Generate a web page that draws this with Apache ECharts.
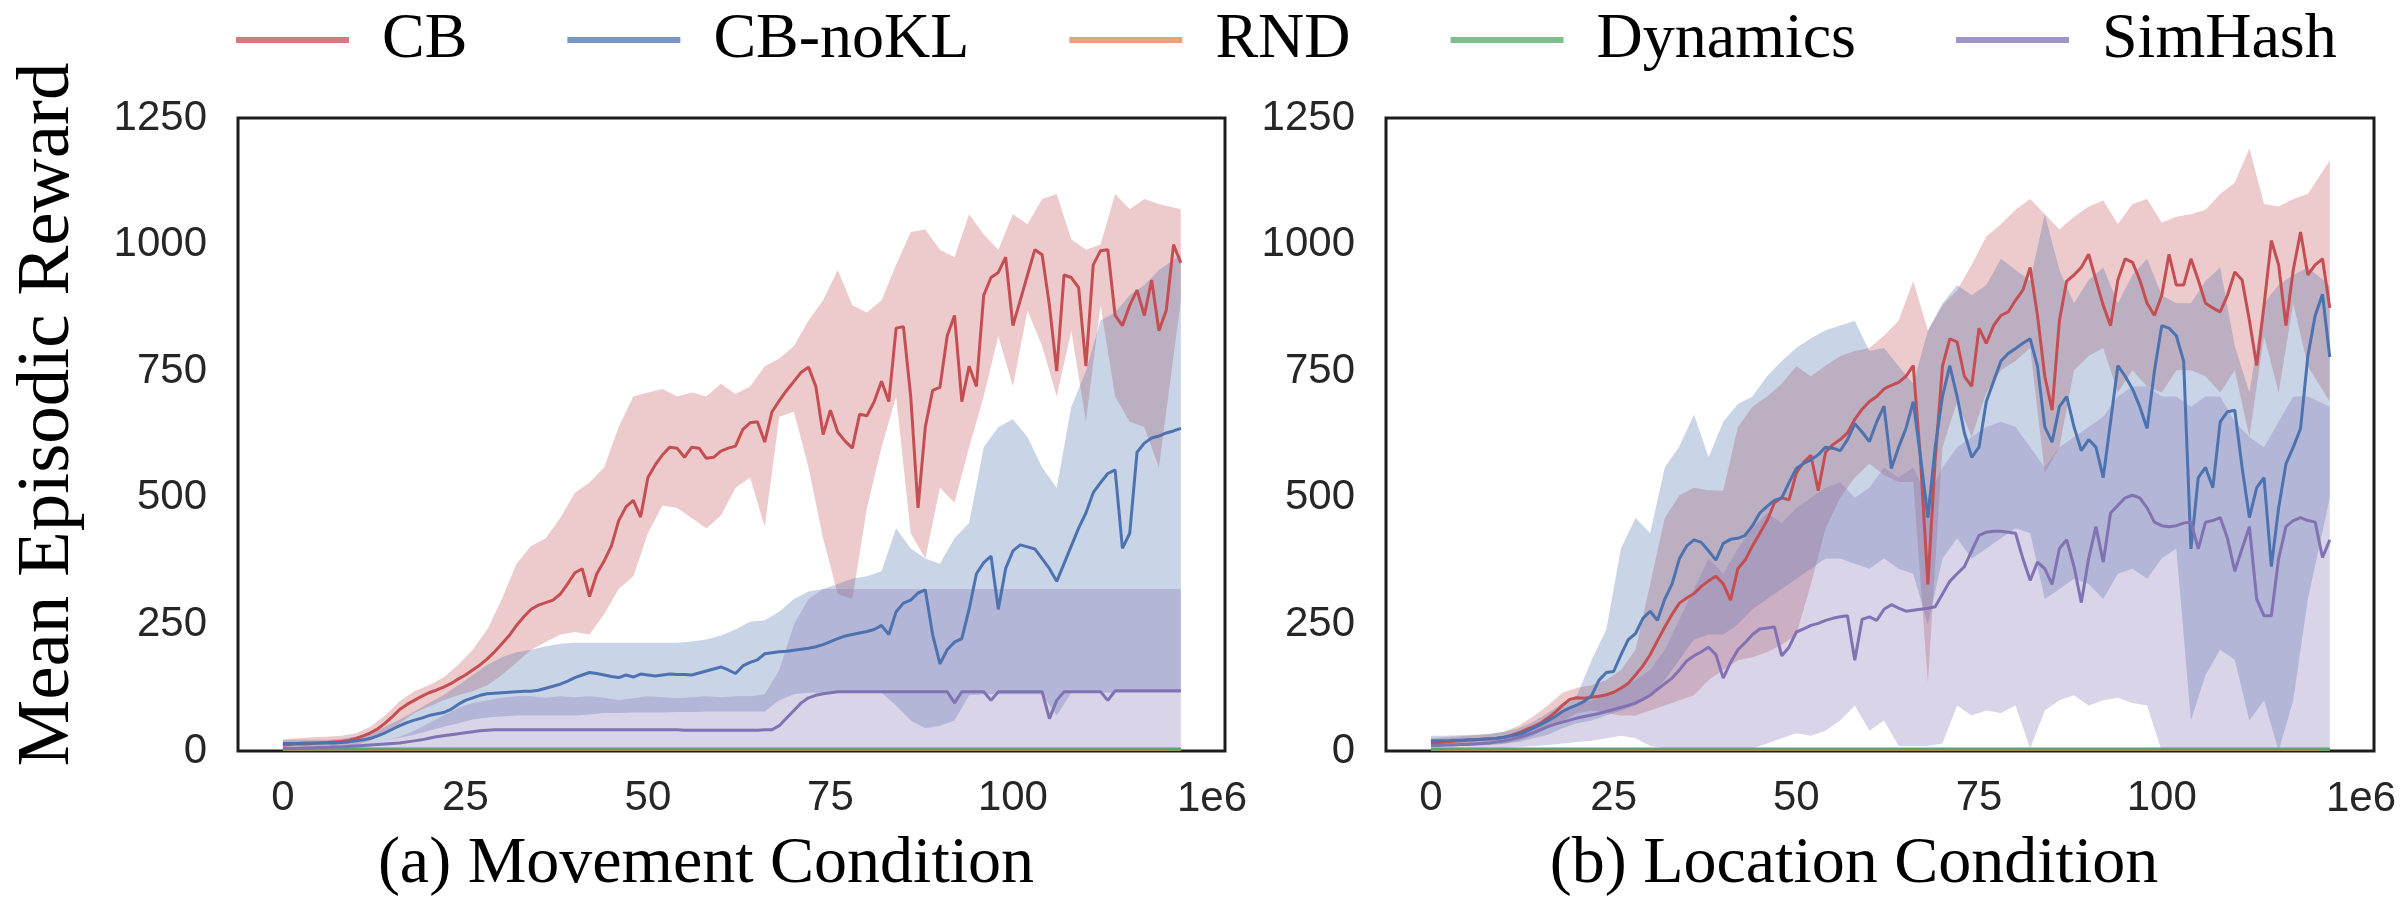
<!DOCTYPE html>
<html>
<head>
<meta charset="utf-8">
<title>Mean Episodic Reward</title>
<script src="https://cdn.jsdelivr.net/npm/echarts@6/dist/echarts.min.js"></script>
<style>
  html, body { margin: 0; padding: 0; background: #fff; }
  #chart { width: 2403px; height: 910px; }
</style>
</head>
<body>
<div id="chart"></div>
<script>
// x position of each sample, in units of 1e6 steps
const xs = [0,1,2,3,4,5,6,7,8,9,10,11,12,13,14,15,16,17,18,19,20,21,22,23,24,25,26,27,28,29,30,31,32,33,34,35,36,37,38,39,40,41,42,43,44,45,46,47,48,49,50,51,52,53,54,55,56,57,58,59,60,61,62,63,64,65,66,67,68,69,70,71,72,73,74,75,76,77,78,79,80,81,82,83,84,85,86,87,88,89,90,91,92,93,94,95,96,97,98,99,100,101,102,103,104,105,106,107,108,109,110,111,112,113,114,115,116,117,118,119,120,121,122,123]
// x positions of the shaded bands
const xb = [0,2,4,6,8,10,12,14,16,18,20,22,24,26,28,30,32,34,36,38,40,42,44,46,48,50,52,54,56,58,60,62,64,66,68,70,72,74,76,78,80,82,84,86,88,90,92,94,96,98,100,102,104,106,108,110,112,114,116,118,120,123]
const xEnds = [0, 123]
const xTicks = [0, 25, 50, 75, 100]

const names = ['CB', 'CB-noKL', 'RND', 'Dynamics', 'SimHash']
const colors = ['#C44E52', '#4C72B0', '#DD8452', '#55A868', '#8172B3']
const legendColors = ['#d37a7d', '#7995c4', '#e5a37d', '#80be8e', '#a095c6']
const titles = ['(a) Movement Condition', '(b) Location Condition']

// ---- (a) Movement Condition ----
const cbA = [12,13,14,14,15,16,17,18,19,21,
  25,30,36,44,55,68,82,92,100,108,
  115,120,126,133,142,150,160,170,182,196,
  212,228,248,265,280,288,293,298,310,330,
  352,360,305,350,375,405,455,482,495,462,
  540,565,585,600,598,580,600,598,578,580,
  592,598,602,635,648,650,610,670,692,712,
  730,748,758,720,625,673,630,612,598,665,
  662,690,730,690,835,838,700,480,640,712,
  718,820,860,690,760,720,900,935,945,975,
  840,890,940,990,980,880,750,940,935,915,
  760,960,988,990,860,840,880,910,860,930,
  830,870,1000,964]
const cbAHi = [22,25,27,28,30,35,48,70,98,118,
  130,145,170,200,240,300,370,405,420,460,
  510,530,560,640,700,708,715,700,708,700,
  725,705,720,760,775,800,850,890,950,880,
  866,890,960,1025,1030,990,975,1060,1020,990,
  1060,1040,1090,1100,1010,990,1000,1100,1070,1090,
  1080,1070]
const cbALo = [5,6,7,8,9,12,20,35,55,75,
  88,100,110,118,130,150,175,200,215,230,
  235,230,270,320,345,430,485,480,460,440,
  465,520,540,443,660,670,560,420,310,300,
  480,600,700,430,380,520,490,600,700,820,
  720,870,800,700,830,650,880,700,650,640,
  560,890]

const cnA = [15,15,15,16,16,16,16,16,17,18,
  20,22,25,30,36,43,50,56,61,65,
  70,73,76,82,92,100,105,110,113,114,
  115,116,117,118,118,120,124,128,132,138,
  145,150,155,153,150,147,145,150,146,152,
  150,148,150,152,151,151,150,154,158,162,
  166,160,153,168,175,180,192,194,196,197,
  199,201,203,206,210,216,222,227,230,233,
  236,240,248,230,275,292,298,312,318,230,
  172,200,215,222,280,350,372,385,280,360,
  395,407,403,399,380,360,335,370,405,440,
  470,510,530,548,555,400,430,590,608,618,
  622,628,632,637]
const cnAHi = [22,22,22,22,24,28,35,48,62,78,
  95,110,130,150,170,185,195,200,207,212,
  214,214,214,214,214,214,214,214,216,220,
  228,240,255,258,275,300,315,320,330,340,
  345,355,440,400,380,370,420,450,600,640,
  655,620,560,520,680,750,850,866,900,920,
  950,980]
const cnALo = [8,8,8,9,10,12,15,20,26,32,
  40,48,55,62,66,68,70,70,70,70,
  70,72,75,75,76,76,76,77,77,78,
  78,78,78,78,100,112,115,115,115,115,
  115,115,90,60,45,50,60,110,112,112,
  112,112,112,70,115,115,115,115,115,115,
  115,115]

const puA = [5,5,5,6,6,7,7,8,8,9,
  10,11,12,13,14,15,16,18,20,22,
  25,28,30,32,34,36,38,40,41,42,
  42,42,42,42,42,42,42,42,42,42,
  42,42,42,42,42,42,42,42,42,42,
  42,42,42,42,42,41,41,41,41,41,
  41,41,41,41,41,41,42,42,50,65,
  80,95,105,110,113,115,117,117,117,117,
  117,117,117,117,117,117,117,117,117,117,
  117,117,95,117,117,117,117,100,117,117,
  117,117,117,117,117,64,100,117,117,117,
  117,117,117,100,119,119,119,119,119,119,
  119,119,119,119]
const puAHi = [8,8,9,10,11,13,16,20,28,40,
  55,70,85,95,100,105,108,108,105,108,
  106,108,105,100,104,108,106,104,106,108,
  106,108,108,112,160,250,300,320,320,320,
  320,320,320,320,320,320,320,320,320,320,
  320,320,320,320,320,320,320,320,320,320,
  320,320]
const puALo = [0,0,0,0,0,0,0,0,0,0,
  0,0,0,0,0,0,0,0,0,0,
  0,0,0,0,0,0,0,0,0,0,
  0,0,0,0,0,0,0,0,0,0,
  0,0,0,0,0,0,0,0,0,0,
  0,0,0,0,0,0,0,0,0,0,
  0,0]

const rndA = [3, 3]
const dynA = [4, 4]

// ---- (b) Location Condition ----
const cbB = [16,17,18,19,20,21,22,23,24,25,
  27,31,36,42,48,55,65,76,90,102,
  105,104,106,108,111,116,124,134,150,168,
  190,218,245,270,292,302,311,325,336,345,
  330,298,360,377,405,430,455,490,500,496,
  549,570,584,514,590,605,615,628,655,675,
  690,700,715,722,728,740,761,575,329,575,
  760,814,808,740,720,835,805,840,860,867,
  890,910,955,860,740,673,850,928,940,955,
  981,930,880,840,930,972,965,930,884,860,
  900,981,920,920,972,930,884,875,867,900,
  946,930,850,761,880,1008,960,840,950,1025,
  940,960,972,875]
const cbBHi = [25,27,29,31,33,38,50,68,90,115,
  125,130,140,160,200,330,460,505,520,515,
  514,640,680,700,725,760,740,761,780,790,
  796,820,850,928,830,880,910,960,1016,1040,
  1069,1090,1060,1030,1055,1075,1087,1040,1080,1090,
  1043,1055,1060,1069,1100,1122,1190,1080,1075,1090,
  1100,1166]
const cbBLo = [8,9,10,11,12,14,20,30,45,60,
  75,80,75,70,70,80,90,100,110,140,
  160,179,185,195,210,230,330,440,500,540,
  567,545,531,531,135,600,690,620,708,752,
  770,796,549,600,752,780,796,708,752,720,
  708,752,752,740,708,752,620,820,708,884,
  760,690]

const cnB = [20,20,20,21,21,22,22,23,24,25,
  27,30,33,38,45,52,60,68,78,85,
  91,98,110,140,155,157,190,220,232,262,
  276,258,300,330,380,405,417,412,395,377,
  410,418,420,426,445,470,483,495,500,530,
  558,568,575,585,600,598,593,615,646,630,
  611,650,681,558,600,637,690,580,461,600,
  700,761,700,628,580,600,690,730,770,785,
  795,805,814,760,640,610,680,700,640,593,
  615,600,540,650,761,740,715,680,637,750,
  840,835,820,770,399,540,560,520,650,670,
  673,560,461,520,540,364,480,567,600,637,
  780,860,902,778]
const cnBHi = [30,30,31,32,34,38,45,58,75,95,
  110,180,240,400,460,430,560,602,664,580,
  650,685,700,740,770,796,815,831,840,849,
  790,796,760,725,830,884,920,900,920,972,
  950,928,1060,950,884,930,955,884,940,972,
  900,884,884,928,955,800,708,884,920,940,
  955,919]
const cnBLo = [10,10,11,12,13,15,18,25,32,45,
  55,60,70,80,90,110,140,180,220,230,
  230,250,280,300,320,340,360,380,380,370,
  360,380,360,350,250,380,420,380,400,420,
  440,430,300,320,340,330,300,350,360,340,
  380,400,60,150,200,180,60,100,0,100,
  300,500]

const puB = [11,11,12,12,13,13,14,15,16,18,
  20,23,27,31,36,42,48,53,57,61,
  65,68,71,74,78,82,86,90,95,102,
  110,122,133,144,160,178,188,196,205,190,
  144,175,200,214,230,241,243,245,188,205,
  235,241,248,252,258,262,265,267,179,260,
  265,258,280,289,282,276,278,280,282,285,
  310,335,350,364,395,426,432,434,434,432,
  430,380,337,373,360,329,400,417,364,293,
  380,443,373,470,485,500,505,500,480,452,
  445,443,445,450,452,399,452,455,461,420,
  355,400,443,300,267,267,380,443,455,461,
  455,452,382,417]
const puBHi = [15,16,17,18,20,25,35,45,60,75,
  90,100,110,125,140,160,200,260,320,380,
  350,400,440,470,450,480,500,520,530,500,
  520,560,540,560,500,560,600,620,640,650,
  640,600,560,600,620,640,660,700,720,720,
  700,700,680,700,700,650,620,600,650,700,
  700,680]
const puBLo = [3,3,4,4,5,6,8,10,12,15,
  18,20,25,30,25,10,5,0,0,0,
  0,0,5,15,25,35,30,40,60,90,
  40,60,10,10,10,15,90,70,80,75,
  90,5,80,100,110,90,100,105,95,90,
  0,0,0,0,0,0,0,0,0,0,
  0,0]

const rndB = [3, 3]
const dynB = [4, 4]

const panels = [
  { cb: cbA, cbHi: cbAHi, cbLo: cbALo, cn: cnA, cnHi: cnAHi, cnLo: cnALo, pu: puA, puHi: puAHi, puLo: puALo, rnd: rndA, dyn: dynA },
  { cb: cbB, cbHi: cbBHi, cbLo: cbBLo, cn: cnB, cnHi: cnBHi, cnLo: cnBLo, pu: puB, puHi: puBHi, puLo: puBLo, rnd: rndB, dyn: dynB }
]

const serif = 'Liberation Serif'
const sans = 'Liberation Sans'
const tickColor = '#262626'

const pairs = (x, y) => x.map((v, i) => [v, y[i]])

const line = (g, idx, x, y) => ({
  name: names[idx],
  type: 'line',
  xAxisIndex: g,
  yAxisIndex: g,
  data: pairs(x, y),
  symbol: 'none',
  lineStyle: { color: colors[idx], width: 3 },
  itemStyle: { color: colors[idx] }
})

// shaded band between lo and hi, drawn as one polygon through the axis scales
const band = (g, idx, lo, hi) => ({
  name: names[idx] + ' band',
  type: 'custom',
  xAxisIndex: g,
  yAxisIndex: g,
  silent: true,
  data: xb.map((x, i) => [x, lo[i], hi[i]]),
  encode: { x: 0, y: [1, 2] },
  renderItem: (params, api) => {
    if (params.dataIndex !== 0) return null
    const top = xb.map((x, i) => api.coord([x, hi[i]]))
    const bottom = xb.map((x, i) => api.coord([x, lo[i]])).reverse()
    return {
      type: 'polygon',
      shape: { points: top.concat(bottom) },
      style: { fill: colors[idx], opacity: 0.3 }
    }
  }
})

const series = []
panels.forEach((d, g) => {
  series.push(band(g, 0, d.cbLo, d.cbHi))
  series.push(line(g, 0, xs, d.cb))
  series.push(band(g, 1, d.cnLo, d.cnHi))
  series.push(line(g, 1, xs, d.cn))
  series.push(line(g, 2, xEnds, d.rnd))
  series.push(line(g, 3, xEnds, d.dyn))
  series.push(band(g, 4, d.puLo, d.puHi))
  series.push(line(g, 4, xs, d.pu))
})

const chart = echarts.init(document.getElementById('chart'))

const option = {
  animation: false,
  backgroundColor: '#fff',
  legend: {
    data: names.map((n, i) => ({ name: n, itemStyle: { color: legendColors[i] } })),
    left: 236,
    top: 8,
    padding: 0,
    icon: 'rect',
    itemWidth: 113,
    itemHeight: 6,
    itemGap: 100,
    textStyle: { fontFamily: serif, fontSize: 64, color: '#000', padding: [0, 0, 0, 28] }
  },
  title: titles.map((t, g) => ({
    text: t,
    left: g === 0 ? 706 : 1854,
    top: 832,
    padding: 0,
    textAlign: 'center',
    textStyle: { fontFamily: serif, fontSize: 66, fontWeight: 'normal', color: '#000', lineHeight: 66 }
  })),
  grid: [
    { left: 238, top: 118, width: 987, height: 633, show: true, borderColor: '#1c1c1c', borderWidth: 3, outerBoundsMode: 'none' },
    { left: 1386, top: 118, width: 988, height: 633, show: true, borderColor: '#1c1c1c', borderWidth: 3, outerBoundsMode: 'none' }
  ],
  xAxis: [0, 1].map(g => ({
    gridIndex: g,
    type: 'value',
    min: -6.15,
    max: 129.05,
    axisLine: { show: false },
    axisTick: { show: false },
    splitLine: { show: false },
    axisLabel: { customValues: xTicks, fontFamily: sans, fontSize: 42, color: tickColor, margin: 26 },
    name: '1e6',
    nameLocation: 'end',
    nameGap: 22,
    nameTextStyle: { fontFamily: sans, fontSize: 42, color: tickColor, align: 'right', verticalAlign: 'top', padding: [27, 0, 0, 0] }
  })),
  yAxis: [0, 1].map(g => ({
    gridIndex: g,
    type: 'value',
    min: 0,
    max: 1250,
    interval: 250,
    axisLine: { show: false },
    axisTick: { show: false },
    splitLine: { show: false },
    axisLabel: { fontFamily: sans, fontSize: 42, color: tickColor, margin: 31, formatter: v => String(v) },
    name: g === 0 ? 'Mean Episodic Reward' : '',
    nameLocation: 'middle',
    nameRotate: 90,
    nameGap: 152,
    nameTextStyle: { fontFamily: serif, fontSize: 75, color: '#000', padding: [0, 0, 0, 40] }
  })),
  series: series
}

chart.setOption(option)
</script>
</body>
</html>
